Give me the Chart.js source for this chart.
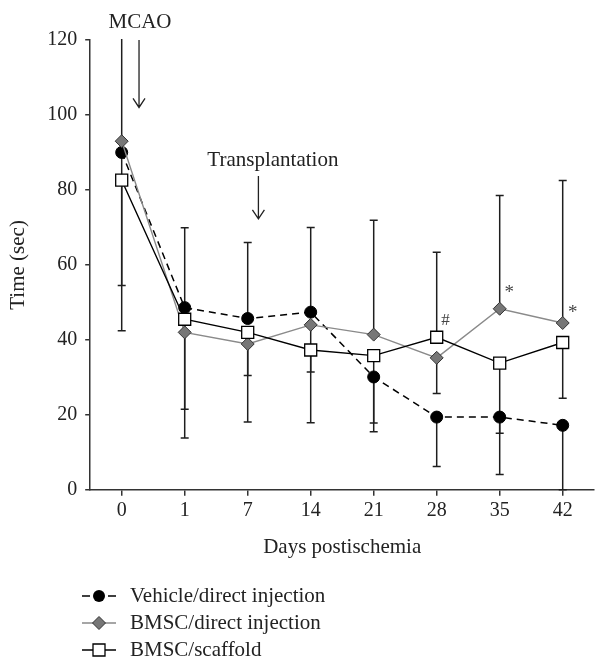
<!DOCTYPE html>
<html lang="en">
<head>
<meta charset="UTF-8">
<script src="https://cdn.jsdelivr.net/npm/chart.js@4.4.0/dist/chart.umd.min.js"></script>
<title>Days postischemia</title>
<style>
  body { margin: 0; background: #fff; }
</style>
</head>
<body>
<canvas id="chart" width="604" height="661"></canvas>
<script>
// categories (days after ischemia)
const days = ['0', '1', '7', '14', '21', '28', '35', '42'];

// mean times (sec)
const vehicle = [90.0, 48.6, 45.7, 47.4, 30.1, 19.4, 19.4, 17.2];
const bmscDirect = [93.0, 42.0, 38.9, 44.0, 41.4, 35.2, 48.3, 44.5];
const bmscScaffold = [82.6, 45.5, 42.0, 37.3, 35.8, 40.7, 33.8, 39.3];

// one-sided error bars: value where the bar ends
const vehicleErrEnd = [135, 69.9, 66.0, 70.0, 15.5, 6.2, 4.1, 0];
const bmscDirectErrEnd = [42.4, 13.8, 18.1, 31.4, 71.9, 25.7, 78.5, 82.5];
const bmscScaffoldErrEnd = [54.5, 21.5, 30.5, 17.9, 17.8, 63.4, 15.1, 24.4];

const seriesNames = ['Vehicle/direct injection', 'BMSC/direct injection', 'BMSC/scaffold'];
const yTicks = [0, 20, 40, 60, 80, 100, 120];

const serif = '"Liberation Serif", "DejaVu Serif", serif';

var errorBars = {
    id: 'errorBars',
    beforeDatasetsDraw(chart) {
        var ctx = chart.ctx, x = chart.scales.x, y = chart.scales.y, a = chart.chartArea;
        var sets = [[vehicle, vehicleErrEnd], [bmscDirect, bmscDirectErrEnd], [bmscScaffold, bmscScaffoldErrEnd]];
        ctx.save();
        ctx.beginPath();
        ctx.rect(a.left, a.top - 1, a.right - a.left, a.bottom - a.top + 6);
        ctx.clip();
        ctx.strokeStyle = '#1e1e1e';
        ctx.lineWidth = 1.5;
        sets.forEach(function (s) {
            s[0].forEach(function (v, i) {
                var end = s[1][i];
                if (end === null) return;
                var px = x.getPixelForValue(i);
                var y0 = y.getPixelForValue(v), y1 = y.getPixelForValue(end);
                ctx.beginPath();
                ctx.moveTo(px, y0);
                ctx.lineTo(px, y1);
                ctx.moveTo(px - 4, y1);
                ctx.lineTo(px + 4, y1);
                ctx.stroke();
            });
        });
        ctx.restore();
    }
};

function arrow(ctx, px, y0, y1) {
    ctx.beginPath();
    ctx.moveTo(px, y0);
    ctx.lineTo(px, y1);
    ctx.moveTo(px - 6, y1 - 9);
    ctx.lineTo(px, y1);
    ctx.lineTo(px + 6, y1 - 9);
    ctx.stroke();
}

function marker(ctx, kind, cx, cy) {
    ctx.beginPath();
    if (kind === 'circle') {
        ctx.arc(cx, cy, 6, 0, Math.PI * 2);
        ctx.fillStyle = '#000';
        ctx.fill();
    } else if (kind === 'diamond') {
        ctx.moveTo(cx - 6.5, cy); ctx.lineTo(cx, cy - 6.5);
        ctx.lineTo(cx + 6.5, cy); ctx.lineTo(cx, cy + 6.5);
        ctx.closePath();
        ctx.fillStyle = '#777';
        ctx.fill();
        ctx.strokeStyle = '#333';
        ctx.lineWidth = 1;
        ctx.stroke();
    } else {
        ctx.rect(cx - 6, cy - 6, 12, 12);
        ctx.fillStyle = '#fff';
        ctx.fill();
        ctx.strokeStyle = '#000';
        ctx.lineWidth = 1.3;
        ctx.stroke();
    }
}

var notes = {
    id: 'notes',
    afterDraw(chart) {
        var ctx = chart.ctx, x = chart.scales.x, y = chart.scales.y;
        ctx.save();
        ctx.font = '21px ' + serif;
        ctx.fillStyle = '#222';
        ctx.textAlign = 'center';
        ctx.textBaseline = 'middle';
        ctx.fillText('MCAO', x.getPixelForValue(0.29), y.getPixelForValue(124.6));
        ctx.fillText('Transplantation', x.getPixelForValue(2.4), y.getPixelForValue(87.9));
        ctx.strokeStyle = '#222';
        ctx.lineWidth = 1.3;
        arrow(ctx, x.getPixelForValue(0.275), y.getPixelForValue(120), y.getPixelForValue(102));
        arrow(ctx, x.getPixelForValue(2.17), y.getPixelForValue(83.7), y.getPixelForValue(72.3));

        ctx.fillStyle = '#444';
        ctx.font = '17px ' + serif;
        ctx.fillText('#', x.getPixelForValue(5.14), y.getPixelForValue(45.1));
        ctx.font = '19px ' + serif;
        ctx.fillText('*', x.getPixelForValue(6.15), y.getPixelForValue(52.5));
        ctx.fillText('*', x.getPixelForValue(7.16), y.getPixelForValue(47.2));

        // legend, one entry per row
        var kinds = ['circle', 'diamond', 'square'];
        ctx.font = '21px ' + serif;
        ctx.textAlign = 'left';
        for (var k = 0; k < 3; k++) {
            var ly = 596 + k * 27;
            ctx.beginPath();
            ctx.strokeStyle = k === 1 ? '#888' : '#000';
            ctx.lineWidth = 1.4;
            if (k === 0) {
                ctx.moveTo(82, ly); ctx.lineTo(90, ly);
                ctx.moveTo(108, ly); ctx.lineTo(116, ly);
            } else {
                ctx.moveTo(82, ly); ctx.lineTo(116, ly);
            }
            ctx.stroke();
            marker(ctx, kinds[k], 99, ly);
            ctx.fillStyle = '#222';
            ctx.fillText(seriesNames[k], 130, ly);
        }
        ctx.restore();
    }
};

new Chart(document.getElementById('chart'), {
    type: 'line',
    data: {
        labels: days,
        datasets: [{
            label: seriesNames[0],
            data: vehicle,
            order: 3,
            borderColor: '#000',
            borderWidth: 1.5,
            borderDash: [7, 5],
            pointStyle: 'circle',
            pointRadius: 6,
            pointBackgroundColor: '#000',
            pointBorderColor: '#000',
            pointBorderWidth: 1
        }, {
            label: seriesNames[1],
            data: bmscDirect,
            order: 2,
            borderColor: '#8a8a8a',
            borderWidth: 1.4,
            pointStyle: 'rectRot',
            pointRadius: 6.5,
            pointBackgroundColor: '#777',
            pointBorderColor: '#333',
            pointBorderWidth: 1
        }, {
            label: seriesNames[2],
            data: bmscScaffold,
            order: 1,
            borderColor: '#000',
            borderWidth: 1.4,
            pointStyle: 'rect',
            pointRadius: 8.5,
            pointBackgroundColor: '#fff',
            pointBorderColor: '#000',
            pointBorderWidth: 1.3
        }]
    },
    options: {
        responsive: false,
        animation: false,
        layout: { padding: { top: 40, right: 0, bottom: 101, left: 0 } },
        plugins: { legend: { display: false }, tooltip: { enabled: false } },
        elements: { line: { tension: 0 }, point: { hoverRadius: 6 } },
        scales: {
            x: {
                offset: true,
                grid: { drawOnChartArea: false, tickLength: 6, color: '#333', lineWidth: 1.5 },
                border: { color: '#333', width: 1.5 },
                ticks: { color: '#222', font: { family: serif, size: 20 }, padding: 3 },
                title: { display: true, text: 'Days postischemia', color: '#222',
                         font: { family: serif, size: 21 }, padding: { top: 9, bottom: 0 } }
            },
            y: {
                min: 0,
                max: 120,
                afterBuildTicks: function (s) { s.ticks = yTicks.map(function (v) { return { value: v }; }); },
                grid: { drawOnChartArea: false, tickLength: 5, color: '#333', lineWidth: 1.5 },
                border: { color: '#333', width: 1.5 },
                ticks: { color: '#222', font: { family: serif, size: 20 }, padding: 8 },
                title: { display: true, text: 'Time (sec)', color: '#222',
                         font: { family: serif, size: 21 }, padding: { top: 6, bottom: 8 } }
            }
        }
    },
    plugins: [errorBars, notes]
});
</script>
</body>
</html>
